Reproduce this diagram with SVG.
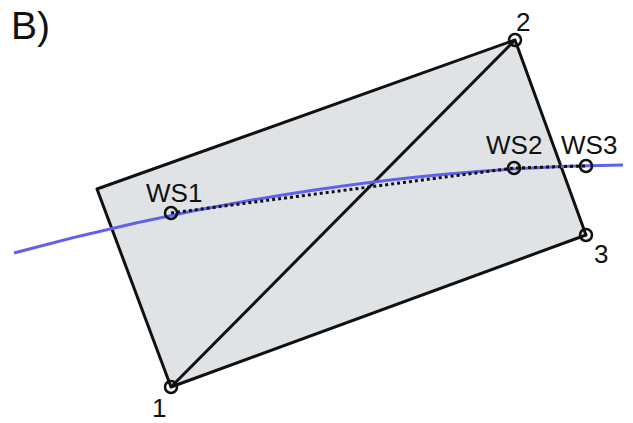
<svg xmlns="http://www.w3.org/2000/svg" width="633" height="423" viewBox="0 0 633 423">
<style>
text{font-family:"Liberation Sans",Arial,sans-serif;fill:#111}
.lbl{font-size:26px}
.pt{fill:none;stroke:#111;stroke-width:2.5}
</style>
<rect width="633" height="423" fill="#fff"/>
<text x="11" y="39" font-size="39">B)</text>
<g id="plate">
<polygon points="97,189 515,40 586,235 171,387" fill="#dfe3e5" stroke="#111" stroke-width="3" stroke-linejoin="round"/>
</g>
<g id="connectors">
<line x1="171" y1="387" x2="515" y2="40" stroke="#111" stroke-width="3"/>
<path d="M14,253 Q330,168 623,165" fill="none" stroke="#6060ee" stroke-width="3"/>
<polyline points="171,213 514,168 586,166" fill="none" stroke="#111" stroke-width="3" stroke-dasharray="3 3"/>
</g>
<g id="p1"><circle class="pt" cx="171" cy="387" r="6"/><text class="lbl" x="152" y="417">1</text></g>
<g id="p2"><circle class="pt" cx="515" cy="40" r="6"/><text class="lbl" x="516" y="31">2</text></g>
<g id="p3"><circle class="pt" cx="586" cy="235" r="6"/><text class="lbl" x="594" y="263">3</text></g>
<g id="ws1"><circle class="pt" cx="171" cy="213" r="6"/><text class="lbl" x="146" y="202">WS1</text></g>
<g id="ws2"><circle class="pt" cx="514" cy="168" r="6"/><text class="lbl" x="486" y="154">WS2</text></g>
<g id="ws3"><circle class="pt" cx="586" cy="166" r="6"/><text class="lbl" x="561" y="154">WS3</text></g>
</svg>
